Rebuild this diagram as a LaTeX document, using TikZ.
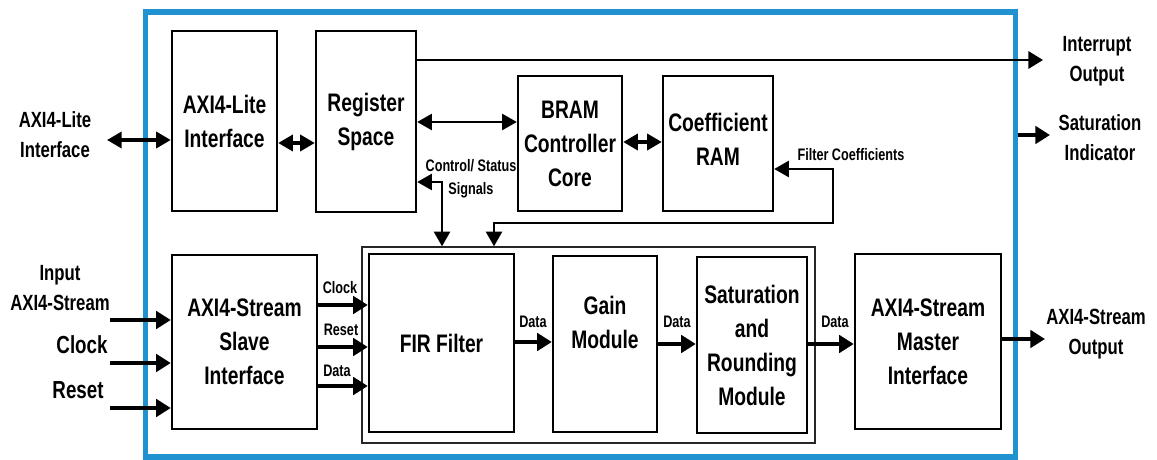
\documentclass[tikz,border=0pt]{standalone}
\usepackage{fontspec}
\setmainfont{Liberation Sans}[FakeStretch=0.76]
\usetikzlibrary{arrows.meta}
\definecolor{frameblue}{RGB}{32,146,208}
\tikzset{
  blk/.style={draw,line width=1.8pt,align=center,inner sep=0pt,font=\fontsize{19}{25.5}\selectfont\bfseries},
  ext/.style={align=center,inner sep=0pt,font=\fontsize{16.5}{22.5}\selectfont\bfseries},
  tag/.style={align=center,inner sep=0pt,font=\fontsize{12.5}{17}\selectfont\bfseries},
  sig/.style={line width=2.8pt,-{Triangle[length=11pt,width=13pt]}},
  bus/.style={line width=2.6pt,{Triangle[length=11pt,width=12pt]}-{Triangle[length=11pt,width=12pt]}},
  thin/.style={line width=1.8pt},
}

\begin{document}
\begin{tikzpicture}[x=0.75pt,y=-0.75pt]
            \useasboundingbox (0,0) rectangle (1157,460);
            % outer frame and filter group
            \node[draw=frameblue,line width=4pt,inner sep=0pt,minimum width=652.5pt,minimum height=333.75pt] (core) at (580.5,234.5) {};
            \node[draw=black!85,line width=1pt,inner sep=0pt,minimum width=339.75pt,minimum height=147pt] (grp) at (588.5,345) {};
            % blocks
            \node[blk,minimum width=78.75pt,minimum height=135pt] (lite) at (224.5,121) {AXI4-Lite\\Interface};
            \node[blk,minimum width=75pt,minimum height=135.75pt] (reg) at (366,121.5) {Register\\Space};
            \node[blk,minimum width=78pt,minimum height=101.25pt] (bram) at (570,143.5) {BRAM\\Controller\\Core};
            \node[blk,minimum width=82.5pt,minimum height=101.25pt,text depth=7pt] (coef) at (718,143.5) {Coefficient\\RAM};
            \node[blk,minimum width=108.75pt,minimum height=130.5pt] (slave) at (244.5,342) {AXI4-Stream\\Slave\\Interface};
            \node[blk,minimum width=108.75pt,minimum height=133.5pt] (fir) at (441.5,343) {FIR Filter};
            \node[blk,minimum width=78pt,minimum height=132pt,text depth=32pt] (gain) at (605,344) {Gain\\Module};
            \node[blk,minimum width=82.5pt,minimum height=132pt] (sat) at (752,345) {Saturation\\and\\Rounding\\Module};
            \node[blk,minimum width=109.5pt,minimum height=131.25pt] (master) at (928,341.5) {AXI4-Stream\\Master\\Interface};
            % outside labels
            \node[ext] (litelbl) at (55,135) {AXI4-Lite\\Interface};
            \node[ext] (axislbl) at (60,288) {Input\\AXI4-Stream};
            \node[ext,font=\fontsize{18.5}{22}\selectfont\bfseries] (clklbl) at (82,345) {Clock};
            \node[ext,font=\fontsize{18.5}{22}\selectfont\bfseries] (rstlbl) at (78,390) {Reset};
            \node[ext] (intlbl) at (1097,61.5) {Interrupt\\Output};
            \node[ext] (satlbl) at (1100,138) {Saturation\\Indicator};
            \node[ext] (outlbl) at (1096,334) {AXI4-Stream\\Output};
            % free ends
            \coordinate (litein) at (107,140);
            \coordinate (inaxis) at (110,320);
            \coordinate (inclk) at (110,363);
            \coordinate (inrst) at (110,408);
            \coordinate (intout) at (1043,60);
            \coordinate (satout) at (1050,135);
            \coordinate (axisout) at (1045,339);
            % register side connections
            \draw[bus] (litein) -- (lite.west |- litein);
            \draw[bus] (lite.east |- 0,143) -- (reg.west |- 0,143);
            \draw[bus,thin] (reg.east |- 0,122) -- (bram.west |- 0,122);
            \draw[bus] (bram.east |- 0,142) -- (coef.west |- 0,142);
            \draw[sig,thin] (reg.east |- intout) -- (intout);
            \draw[sig] (core.east |- satout) -- (satout);
            \draw[bus,thin] (reg.east |- 0,182) -| (442,0 |- grp.north);
            \node[tag] (ctrllbl) at (471,178.5) {Control/ Status\\Signals};
            \draw[bus,thin] (coef.east |- 0,169) -| (833,223) -| (494,0 |- grp.north);
            \node[tag] (coeflbl) at (851,155) {Filter Coefficients};
            % stream path
            \draw[sig] (inaxis) -- (slave.west |- inaxis);
            \draw[sig] (inclk) -- (slave.west |- inclk);
            \draw[sig] (inrst) -- (slave.west |- inrst);
            \draw[sig] (slave.east |- 0,305) -- (fir.west |- 0,305);
            \draw[sig] (slave.east |- 0,347) -- (fir.west |- 0,347);
            \draw[sig] (slave.east |- 0,386) -- (fir.west |- 0,386);
            \node[tag] (clktag) at (340,288) {Clock};
            \node[tag] (rsttag) at (341,330) {Reset};
            \node[tag] (datatag) at (337,371) {Data};
            \draw[sig] (fir.east |- 0,342) -- (gain.west |- 0,342);
            \node[tag] (firtag) at (533,322) {Data};
            \draw[sig] (gain.east |- 0,344) -- (sat.west |- 0,344);
            \node[tag] (gaintag) at (677,322) {Data};
            \draw[sig] (sat.east |- 0,344) -- (master.west |- 0,344);
            \node[tag] (sattag) at (835,322) {Data};
            \draw[sig] (master.east |- axisout) -- (axisout);
\end{tikzpicture}
\end{document}
